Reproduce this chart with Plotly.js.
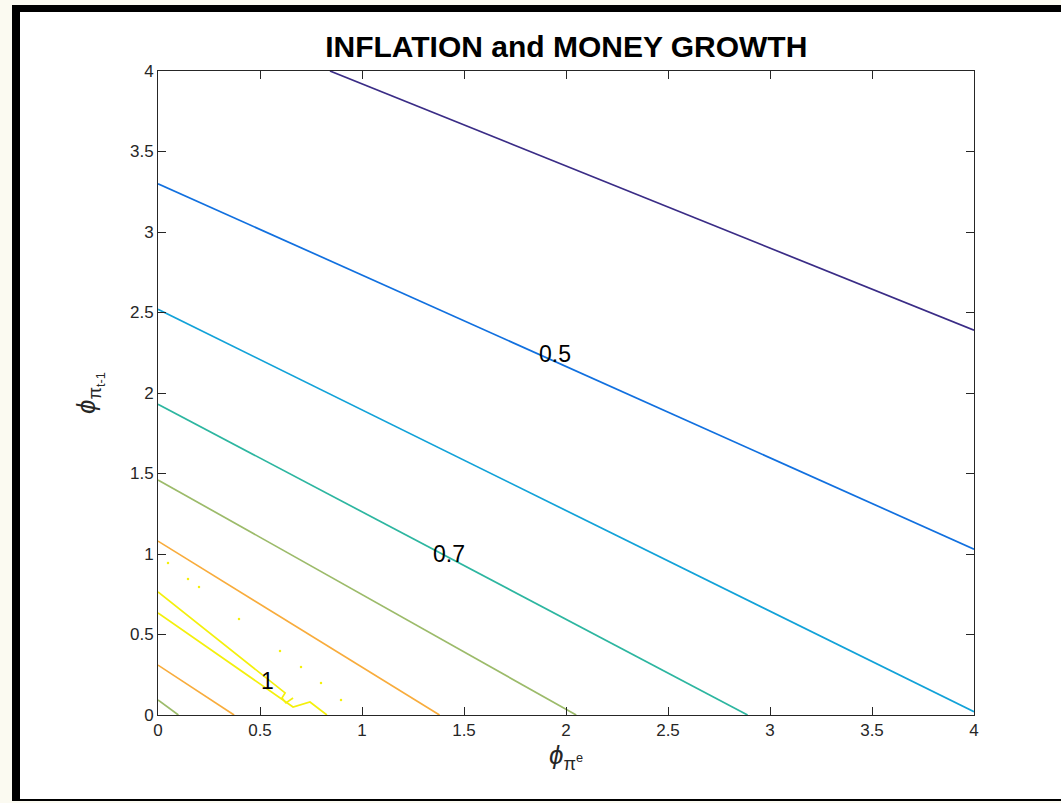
<!DOCTYPE html>
<html>
<head>
<meta charset="utf-8">
<script src="https://cdn.plot.ly/plotly-3.0.1.min.js"></script>
<style>
  html, body { margin:0; padding:0; width:1061px; height:803px; background:#fbfaf1; overflow:hidden; }
  #frame { position:absolute; left:12px; top:5px; width:1049px; height:796px; background:#ffffff;
           box-sizing:border-box; border-left:8px solid #000; border-top:7px solid #000; border-bottom:2px solid #000; }
  #plot { position:absolute; left:0; top:0; width:1061px; height:803px; }
</style>
</head>
<body>
<div id="frame"></div>
<div id="plot"></div>
<script>
// Contour lines (x = phi_pi^e, y = phi_pi_{t-1})
const lvl04X = [0.843, 4.0];  const lvl04Y = [4.0, 2.39];
const lvl05X = [0.0, 4.0];    const lvl05Y = [3.30, 1.03];
const lvl06X = [0.0, 4.0];    const lvl06Y = [2.52, 0.02];
const lvl07X = [0.0, 2.89];   const lvl07Y = [1.93, 0.0];
const lvl08aX = [0.0, 2.05];  const lvl08aY = [1.46, 0.0];
const lvl09aX = [0.0, 1.38];  const lvl09aY = [1.08, 0.0];
const lvl10aX = [0.0, 0.623, 0.608, 0.627, 0.662]; const lvl10aY = [0.764, 0.137, 0.106, 0.075, 0.106];
const lvl10bX = [0.0, 0.662, 0.745, 0.828];        const lvl10bY = [0.634, 0.050, 0.081, 0.0];
const lvl09bX = [0.0, 0.373]; const lvl09bY = [0.31, 0.0];
const lvl08bX = [0.0, 0.10];  const lvl08bY = [0.093, 0.0];
// tiny level-1 islands (dots)
const dotX = [0.049, 0.147, 0.201, 0.397, 0.598, 0.701, 0.799, 0.897];
const dotY = [0.944, 0.845, 0.795, 0.596, 0.398, 0.298, 0.199, 0.093];
// contour labels
const labelText = ["0.5", "0.7", "1"];
const labelX = [1.946, 1.426, 0.539];
const labelY = [2.242, 1.0, 0.211];
const tickVals = [0, 0.5, 1, 1.5, 2, 2.5, 3, 3.5, 4];
const tickText = ["0", "0.5", "1", "1.5", "2", "2.5", "3", "3.5", "4"];

const colors = {
  l04: "#3a2c86", l05: "#1170df", l06: "#12a2d8", l07: "#2db6a0",
  l08: "#9cbb6a", l09: "#f8ac3c", l10: "#f4f00c"
};
function line(x, y, c) {
  return {x: x, y: y, type: "scatter", mode: "lines", line: {color: c, width: 1.7}, hoverinfo: "skip"};
}
const data = [
  line(lvl04X, lvl04Y, colors.l04),
  line(lvl05X, lvl05Y, colors.l05),
  line(lvl06X, lvl06Y, colors.l06),
  line(lvl07X, lvl07Y, colors.l07),
  line(lvl08aX, lvl08aY, colors.l08),
  line(lvl09aX, lvl09aY, colors.l09),
  line(lvl10aX, lvl10aY, colors.l10),
  line(lvl10bX, lvl10bY, colors.l10),
  line(lvl09bX, lvl09bY, colors.l09),
  line(lvl08bX, lvl08bY, colors.l08),
  {x: dotX, y: dotY, type: "scatter", mode: "markers", marker: {color: colors.l10, size: 2.5, line: {width: 0}}, hoverinfo: "skip"}
];
const font = "Liberation Sans, Arial, sans-serif";
const annotations = labelText.map((t, i) => ({
  x: labelX[i], y: labelY[i], xref: "x", yref: "y", text: t, showarrow: false,
  font: {family: font, size: 23, color: "#000000"}, xanchor: "center", yanchor: "middle"
}));
const axisCommon = {
  range: [0, 4], tickvals: tickVals, ticktext: tickText,
  showgrid: false, zeroline: false, showline: true, mirror: "ticks",
  linecolor: "#262626", linewidth: 1, ticks: "inside", ticklen: 8, tickwidth: 1, tickcolor: "#262626",
  tickfont: {family: font, size: 17, color: "#262626"}, fixedrange: true
};
const layout = {
  width: 1061, height: 803,
  font: {family: font, size: 17, color: "#262626"},
  margin: {l: 158, r: 87, t: 71, b: 88, pad: 0},
  paper_bgcolor: "rgba(0,0,0,0)", plot_bgcolor: "#ffffff",
  showlegend: false,
  title: {text: "<b>INFLATION and MONEY GROWTH</b>", font: {family: font, size: 30, color: "#000000"},
          x: 0.5337, xanchor: "center", y: 0.9415, yanchor: "middle"},
  xaxis: Object.assign({}, axisCommon, {
    title: {text: "<i>ϕ</i><sub>π<sup>e</sup></sub>", font: {family: font, size: 26, color: "#262626"}, standoff: 1}
  }),
  yaxis: Object.assign({}, axisCommon, {
    title: {text: "<i>ϕ</i><sub>π<sub>t-1</sub></sub>", font: {family: font, size: 26, color: "#262626"}, standoff: 26}
  }),
  annotations: annotations
};
Plotly.newPlot("plot", data, layout, {staticPlot: true, displayModeBar: false});
</script>
</body>
</html>
